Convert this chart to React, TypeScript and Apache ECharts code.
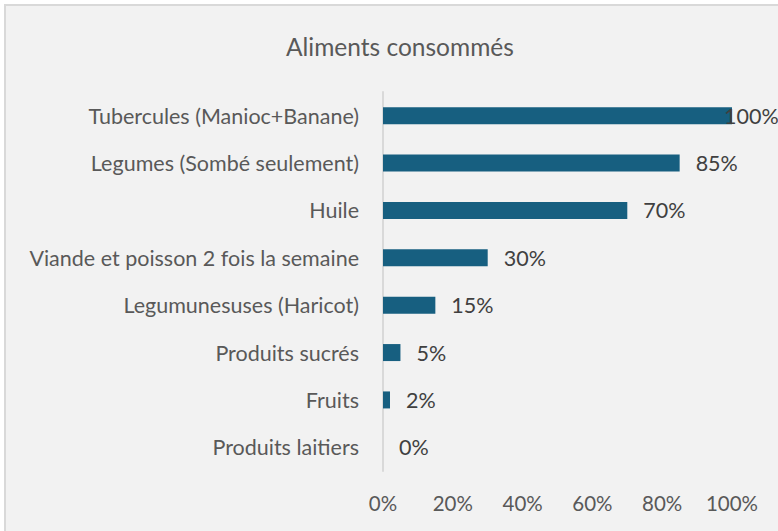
import React, { useEffect, useRef } from "react";
import * as echarts from "echarts";

const categories = [
  "Tubercules (Manioc+Banane)",
  "Legumes (Sombé seulement)",
  "Huile",
  "Viande et poisson 2 fois la semaine",
  "Legumunesuses (Haricot)",
  "Produits sucrés",
  "Fruits",
  "Produits laitiers",
];
const values = [1.0, 0.85, 0.7, 0.3, 0.15, 0.05, 0.02, 0.0];
const xTicks = [0, 0.2, 0.4, 0.6, 0.8, 1.0];

const FONT = "Lato, 'Open Sans', sans-serif";

export default function App() {
  const ref = useRef<HTMLDivElement>(null);
  useEffect(() => {
    if (!ref.current) return;
    const chart = echarts.init(ref.current, undefined, { renderer: "svg" });
    chart.setOption({
      animation: false,
      backgroundColor: "transparent",
      title: {
        text: "Aliments consommés",
        left: 281,
        top: 29,
        textStyle: { fontFamily: FONT, fontSize: 24.5, fontWeight: "normal", color: "#595959" },
      },
      grid: { left: 383, right: 46, top: 92, bottom: 60, containLabel: false },
      xAxis: {
        type: "value",
        min: xTicks[0],
        max: xTicks[xTicks.length - 1],
        interval: 0.2,
        axisLine: { show: false },
        axisTick: { show: false },
        splitLine: { show: false },
        axisLabel: {
          formatter: (v: number) => Math.round(v * 100) + "%",
          fontFamily: FONT,
          fontSize: 20.5,
          color: "#595959",
          margin: 21,
        },
      },
      yAxis: {
        type: "category",
        data: categories,
        inverse: true,
        axisLine: { show: true, lineStyle: { color: "#d9d9d9", width: 2 } },
        axisTick: { show: false },
        axisLabel: { fontFamily: FONT, fontSize: 21.5, color: "#595959", margin: 24 },
      },
      series: [
        {
          type: "bar",
          data: values.map((v, i) =>
            i === 0 ? { value: v, label: { distance: -8 } } : { value: v }
          ),
          barWidth: 17,
          itemStyle: { color: "#175f80" },
          label: {
            show: true,
            position: "right",
            distance: 16,
            formatter: (p: any) => Math.round(p.value * 100) + "%",
            fontFamily: FONT,
            fontSize: 21.5,
            color: "#404040",
          },
        },
      ],
    });
    return () => chart.dispose();
  }, []);
  return (
    <div style={{ position: "absolute", left: 0, top: 0, width: 778, height: 531, background: "#fff", overflow: "hidden" }}>
      <div
        style={{
          position: "absolute",
          left: 4,
          top: 4,
          width: 800,
          height: 560,
          background: "#f2f2f2",
          border: "2px solid #d9d9d9",
        }}
      />
      <div ref={ref} style={{ position: "absolute", left: 0, top: 0, width: 778, height: 531 }} />
    </div>
  );
}
